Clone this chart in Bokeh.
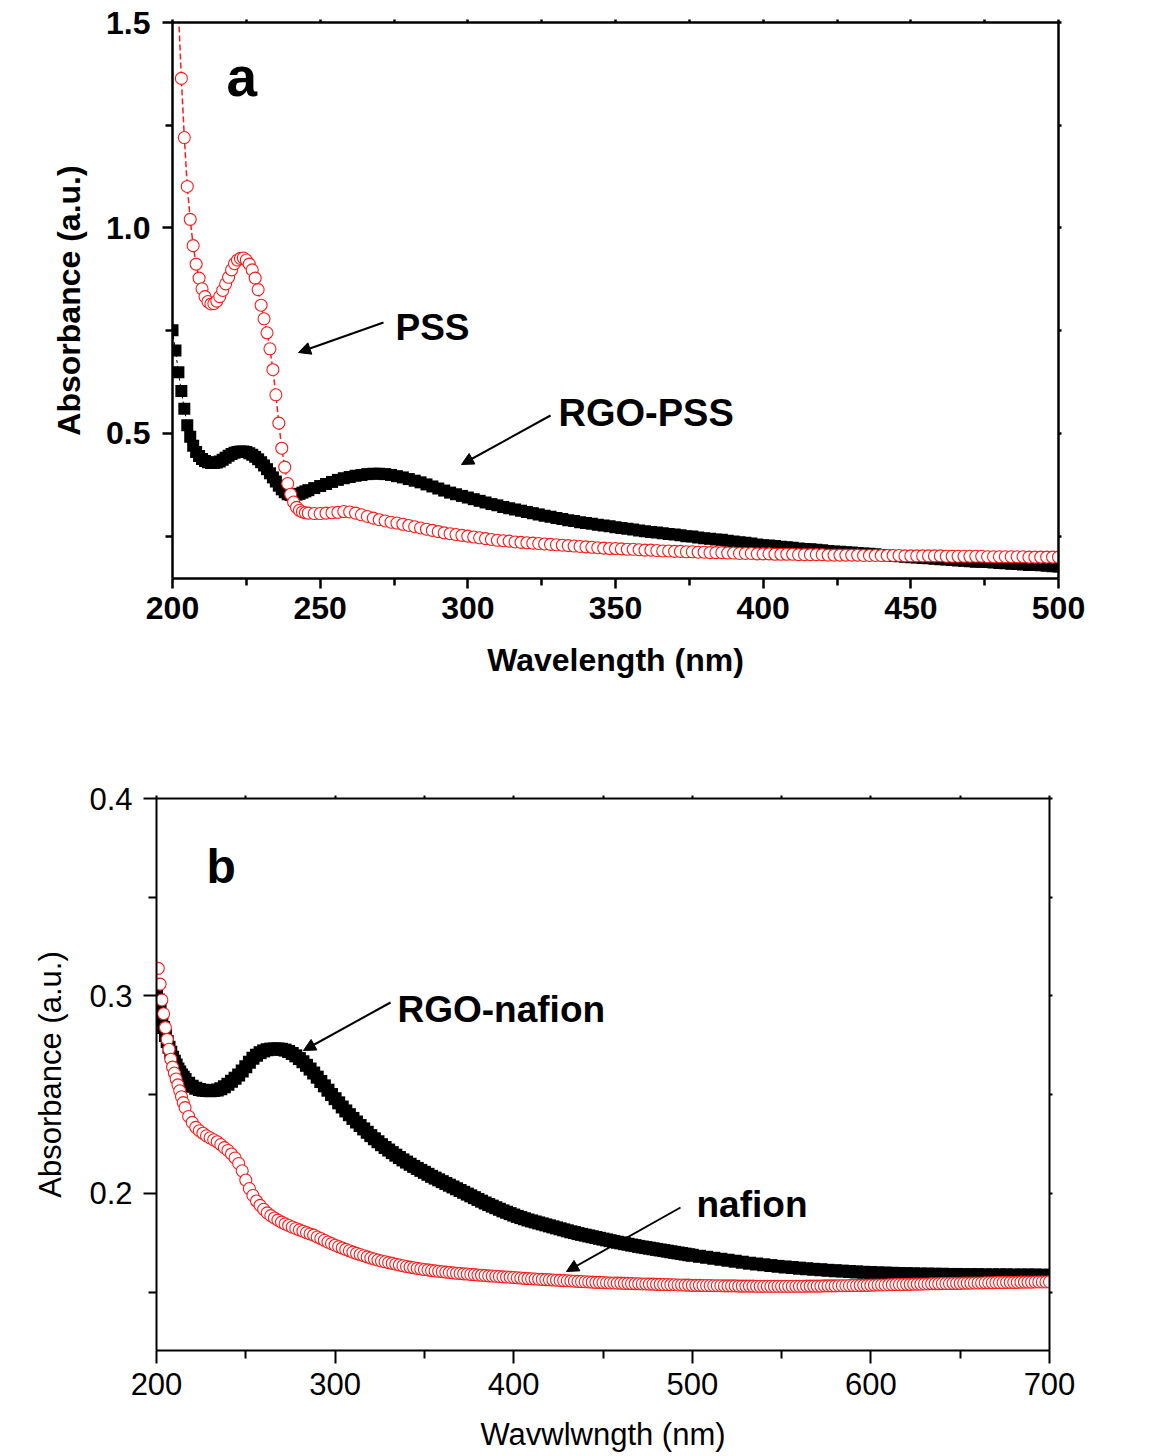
import math
from bokeh.plotting import figure
from bokeh.models import LinearAxis, FixedTicker, Range1d, Label, Arrow, NormalHead, ColumnDataSource
from bokeh.embed import file_html
from bokeh.resources import INLINE

# ---------------- Panel a data (wavelength nm / absorbance) ----------------
a_wl = list(range(200, 246)) + list(range(246, 501, 2))

a_pss = [
    1.95, 1.72, 1.53, 1.364, 1.220, 1.101, 1.021, 0.957, 0.912, 0.878,
    0.852, 0.833, 0.821, 0.815, 0.816, 0.822, 0.833, 0.848, 0.864, 0.880,
    0.898, 0.913, 0.922, 0.926, 0.927, 0.922, 0.912, 0.898, 0.878, 0.850,
    0.812, 0.779, 0.745, 0.706, 0.655, 0.594, 0.525, 0.464, 0.418, 0.378,
    0.352, 0.333, 0.320, 0.313, 0.309, 0.307,
    0.306, 0.305, 0.305, 0.306, 0.307, 0.308, 0.310, 0.309, 0.306, 0.302,
    0.298, 0.294, 0.290, 0.287, 0.284, 0.282, 0.279, 0.276, 0.273, 0.270,
    0.267, 0.264, 0.261, 0.258, 0.256, 0.254, 0.252, 0.250, 0.248, 0.246,
    0.244, 0.242, 0.240, 0.239, 0.238, 0.236, 0.235, 0.234, 0.233, 0.232,
    0.231, 0.230, 0.229, 0.228, 0.227, 0.226, 0.225, 0.224, 0.223, 0.222,
    0.221, 0.220, 0.220, 0.219, 0.218, 0.218, 0.217, 0.216, 0.216, 0.215,
    0.214, 0.214, 0.213, 0.213, 0.212, 0.212, 0.211, 0.211, 0.210, 0.210,
    0.210, 0.209, 0.209, 0.208, 0.208, 0.208, 0.207, 0.207, 0.207, 0.206,
    0.206, 0.206, 0.206, 0.205, 0.205, 0.205, 0.205, 0.205, 0.204, 0.204,
    0.204, 0.204, 0.204, 0.204, 0.203, 0.203, 0.203, 0.203, 0.203, 0.203,
    0.203, 0.202, 0.202, 0.202, 0.202, 0.202, 0.202, 0.202, 0.201, 0.201,
    0.201, 0.201, 0.201, 0.201, 0.201, 0.200, 0.200, 0.200, 0.200, 0.200,
    0.200, 0.200, 0.199, 0.199, 0.199, 0.199, 0.199, 0.199,
]

a_rgo_pss = [
    0.751, 0.702, 0.649, 0.603, 0.560, 0.520, 0.492, 0.470, 0.455, 0.445,
    0.438, 0.433, 0.430, 0.428, 0.428, 0.429, 0.432, 0.436, 0.441, 0.446,
    0.450, 0.453, 0.455, 0.456, 0.456, 0.455, 0.452, 0.448, 0.443, 0.437,
    0.430, 0.422, 0.413, 0.403, 0.393, 0.383, 0.373, 0.364, 0.357, 0.352,
    0.350, 0.350, 0.351, 0.353, 0.356, 0.359,
    0.362, 0.367, 0.372, 0.377, 0.382, 0.387, 0.391, 0.394, 0.397, 0.399,
    0.401, 0.402, 0.402, 0.401, 0.399, 0.396, 0.393, 0.389, 0.385, 0.381,
    0.376, 0.371, 0.366, 0.361, 0.356, 0.352, 0.348, 0.344, 0.340, 0.336,
    0.332, 0.328, 0.325, 0.321, 0.318, 0.315, 0.312, 0.309, 0.306, 0.303,
    0.300, 0.297, 0.294, 0.292, 0.289, 0.287, 0.284, 0.282, 0.280, 0.278,
    0.276, 0.274, 0.272, 0.270, 0.268, 0.266, 0.264, 0.262, 0.260, 0.259,
    0.257, 0.255, 0.254, 0.252, 0.250, 0.249, 0.247, 0.245, 0.244, 0.242,
    0.241, 0.239, 0.237, 0.235, 0.234, 0.232, 0.230, 0.228, 0.227, 0.226,
    0.224, 0.223, 0.222, 0.220, 0.219, 0.218, 0.217, 0.216, 0.214, 0.213,
    0.212, 0.211, 0.210, 0.209, 0.208, 0.207, 0.206, 0.204, 0.203, 0.202,
    0.201, 0.200, 0.199, 0.198, 0.197, 0.196, 0.195, 0.194, 0.193, 0.192,
    0.191, 0.190, 0.189, 0.188, 0.188, 0.187, 0.186, 0.185, 0.184, 0.183,
    0.182, 0.181, 0.180, 0.180, 0.179, 0.178, 0.177, 0.176,
]

a_xticks = [200, 250, 300, 350, 400, 450, 500]
a_xminor = [225, 275, 325, 375, 425, 475]
a_yticks = [0.5, 1.0, 1.5]
a_yminor = [0.25, 0.75, 1.25]
a_ylabels = {0.5: "0.5", 1.0: "1.0", 1.5: "1.5"}

# ---------------- Panel b data ----------------
b_naf_wl = list(range(201, 216)) + list(range(216, 701, 2))
b_nafion = [
    0.314, 0.306, 0.298, 0.291, 0.284, 0.278, 0.273, 0.268, 0.264, 0.261,
    0.258, 0.255, 0.252, 0.249, 0.246,
    0.2435, 0.2390, 0.2360, 0.2335, 0.2318, 0.2305, 0.2292, 0.2282, 0.2272, 0.2262,
    0.2248, 0.2232, 0.2218, 0.2200, 0.2180, 0.2152, 0.2115, 0.2068, 0.2025, 0.1990,
    0.1962, 0.1940, 0.1920, 0.1902, 0.1888, 0.1876, 0.1865, 0.1855, 0.1846, 0.1838,
    0.1830, 0.1823, 0.1816, 0.1809, 0.1802, 0.1795, 0.1789, 0.1780, 0.1772, 0.1763,
    0.1754, 0.1746, 0.1738, 0.1731, 0.1724, 0.1717, 0.1710, 0.1703, 0.1697, 0.1691,
    0.1685, 0.1679, 0.1673, 0.1668, 0.1663, 0.1658, 0.1654, 0.1650, 0.1646, 0.1642,
    0.1638, 0.1634, 0.1630, 0.1627, 0.1624, 0.1621, 0.1618, 0.1615, 0.1613, 0.1610,
    0.1608, 0.1606, 0.1604, 0.1602, 0.1600, 0.1598, 0.1596, 0.1595, 0.1593, 0.1592,
    0.1590, 0.1589, 0.1587, 0.1586, 0.1585, 0.1583, 0.1582, 0.1581, 0.1580, 0.1578,
    0.1577, 0.1576, 0.1575, 0.1573, 0.1572, 0.1570, 0.1569, 0.1568, 0.1567, 0.1566,
    0.1565, 0.1564, 0.1563, 0.1562, 0.1561, 0.1560, 0.1559, 0.1558, 0.1557, 0.1556,
    0.1555, 0.1554, 0.1553, 0.1552, 0.1551, 0.1550, 0.1550, 0.1549, 0.1548, 0.1547,
    0.1547, 0.1546, 0.1546, 0.1545, 0.1545, 0.1544, 0.1543, 0.1543, 0.1542, 0.1542,
    0.1541, 0.1541, 0.1540, 0.1540, 0.1539, 0.1539, 0.1538, 0.1538, 0.1537, 0.1537,
    0.1536, 0.1536, 0.1535, 0.1535, 0.1535, 0.1534, 0.1534, 0.1534, 0.1533, 0.1533,
    0.1533, 0.1532, 0.1532, 0.1532, 0.1532, 0.1531, 0.1531, 0.1531, 0.1531, 0.1531,
    0.1530, 0.1530, 0.1530, 0.1530, 0.1530, 0.1530, 0.1530, 0.1530, 0.1530, 0.1530,
    0.1530, 0.1530, 0.1530, 0.1530, 0.1531, 0.1531, 0.1531, 0.1531, 0.1531, 0.1532,
    0.1532, 0.1532, 0.1532, 0.1533, 0.1533, 0.1533, 0.1534, 0.1534, 0.1534, 0.1535,
    0.1535, 0.1535, 0.1536, 0.1536, 0.1537, 0.1537, 0.1537, 0.1538, 0.1538, 0.1539,
    0.1539, 0.1539, 0.1540, 0.1540, 0.1541, 0.1541, 0.1541, 0.1542, 0.1542, 0.1543,
    0.1543, 0.1543, 0.1544, 0.1544, 0.1544, 0.1545, 0.1545, 0.1545, 0.1546, 0.1546,
    0.1546, 0.1547, 0.1547, 0.1547, 0.1548, 0.1548, 0.1548, 0.1549, 0.1549, 0.1549,
    0.1550, 0.1550, 0.1550, 0.1550, 0.1551, 0.1551, 0.1551, 0.1551, 0.1552, 0.1552,
    0.1552, 0.1552, 0.1553,
]

b_rgo_wl = list(range(200, 216)) + list(range(216, 501, 2)) + list(range(504, 701, 4))
b_rgo_nafion = [
    0.304, 0.298, 0.293, 0.288, 0.284, 0.280, 0.277, 0.274, 0.2715, 0.269,
    0.267, 0.265, 0.263, 0.2615, 0.260, 0.2588,
    0.2577, 0.2558, 0.2543, 0.2533, 0.2527, 0.2523, 0.2521, 0.2520, 0.2521, 0.2524,
    0.2530, 0.2540, 0.2553, 0.2568, 0.2583, 0.2600, 0.2620, 0.2642, 0.2665, 0.2685,
    0.2700, 0.2713, 0.2722, 0.2728, 0.2731, 0.2732, 0.2732, 0.2730, 0.2726, 0.2719,
    0.2709, 0.2697, 0.2683, 0.2667, 0.2649, 0.2630, 0.2610, 0.2589, 0.2567, 0.2545,
    0.2523, 0.2501, 0.2480, 0.2459, 0.2438, 0.2418, 0.2399, 0.2380, 0.2362, 0.2344,
    0.2327, 0.2310, 0.2293, 0.2277, 0.2262, 0.2247, 0.2233, 0.2220, 0.2207, 0.2194,
    0.2182, 0.2170, 0.2159, 0.2148, 0.2137, 0.2127, 0.2117, 0.2107, 0.2097, 0.2087,
    0.2078, 0.2069, 0.2060, 0.2051, 0.2042, 0.2033, 0.2024, 0.2015, 0.2006, 0.1997,
    0.1988, 0.1979, 0.1970, 0.1961, 0.1952, 0.1944, 0.1936, 0.1928, 0.1920, 0.1912,
    0.1905, 0.1898, 0.1891, 0.1884, 0.1878, 0.1872, 0.1866, 0.1861, 0.1856, 0.1851,
    0.1846, 0.1841, 0.1836, 0.1831, 0.1826, 0.1821, 0.1816, 0.1811, 0.1806, 0.1802,
    0.1797, 0.1793, 0.1789, 0.1785, 0.1781, 0.1777, 0.1773, 0.1769, 0.1765, 0.1761,
    0.1757, 0.1753, 0.1750, 0.1746, 0.1743, 0.1739, 0.1736, 0.1732, 0.1729, 0.1726,
    0.1723, 0.1720, 0.1717, 0.1714, 0.1711, 0.1708, 0.1705, 0.1702, 0.1699, 0.1696,
    0.1693, 0.1690, 0.1687,
    0.1682, 0.1677, 0.1672, 0.1667, 0.1662, 0.1657, 0.1652, 0.1647, 0.1643, 0.1639,
    0.1635, 0.1631, 0.1628, 0.1625, 0.1622, 0.1619, 0.1616, 0.1614, 0.1611, 0.1609,
    0.1607, 0.1605, 0.1603, 0.1601, 0.1600, 0.1598, 0.1597, 0.1596, 0.1595, 0.1594,
    0.1593, 0.1592, 0.1592, 0.1591, 0.1591, 0.1590, 0.1590, 0.1589, 0.1589, 0.1589,
    0.1588, 0.1588, 0.1588, 0.1588, 0.1587, 0.1587, 0.1587, 0.1587, 0.1586, 0.1586,
]

b_xticks = [200, 300, 400, 500, 600, 700]
b_xminor = [250, 350, 450, 550, 650]
b_yticks = [0.2, 0.3, 0.4]
b_yminor = [0.15, 0.25, 0.35]
b_ylabels = {0.2: "0.2", 0.3: "0.3", 0.4: "0.4"}

FONT = "Liberation Sans"
W = 1156
HA, HB = 728, 728

# frame placement (page pixels)
A_L, A_R, A_T, A_B = 172, 1058, 22, 578
B_L, B_R, B_T, B_B = 156, 1049, 798, 1350
A_X0, A_X1, A_Y0, A_Y1 = 200, 500, 0.147, 1.5
B_X0, B_X1, B_Y0, B_Y1 = 200, 700, 0.1205, 0.4


def ax_(px):
    return A_X0 + (px - A_L) * (A_X1 - A_X0) / (A_R - A_L)


def ay_(py):
    return A_Y1 - (py - A_T) * (A_Y1 - A_Y0) / (A_B - A_T)


def bx_(px):
    return B_X0 + (px - B_L) * (B_X1 - B_X0) / (B_R - B_L)


def by_(py):
    return B_Y1 - (py - B_T) * (B_Y1 - B_Y0) / (B_B - B_T)


def make_fig(xr, yr, left, right, top, bottom, h):
    p = figure(width=W, height=h, x_range=Range1d(*xr), y_range=Range1d(*yr),
               x_axis_type=None, y_axis_type=None,
               output_backend="svg", toolbar_location=None,
               min_border_left=left, min_border_right=right,
               min_border_top=top, min_border_bottom=bottom)
    p.outline_line_color = None
    p.background_fill_color = "white"
    p.border_fill_color = "white"
    return p


def add_axes(p, xt, xm, yt, ym, lw, maj, mino, fsize, style, xstand, ystand,
             xlab, ylab, lsize, xlstand, ylstand, yover=None):
    specs = [("below", xt, xm, True, xstand, xlab, xlstand, None),
             ("left", yt, ym, True, ystand, ylab, ylstand, yover),
             ("above", xt, xm, False, 0, None, 0, None),
             ("right", yt, ym, False, 0, None, 0, None)]
    for loc, t, m, lab, stand, alab, alstand, over in specs:
        ax = LinearAxis(ticker=FixedTicker(ticks=t, minor_ticks=m))
        ax.axis_line_width = lw
        ax.axis_line_color = "black"
        ax.major_tick_line_width = lw
        ax.minor_tick_line_width = lw
        ax.major_tick_in = 0
        ax.minor_tick_in = 0
        if lab:
            ax.major_tick_out = maj
            ax.minor_tick_out = mino
            ax.major_label_text_font = FONT
            ax.major_label_text_font_size = fsize
            ax.major_label_text_font_style = style
            ax.major_label_text_color = "black"
            ax.major_label_standoff = stand
            if over:
                ax.major_label_overrides = over
            ax.axis_label = alab
            ax.axis_label_text_font = FONT
            ax.axis_label_text_font_size = lsize
            ax.axis_label_text_font_style = style
            ax.axis_label_text_color = "black"
            ax.axis_label_standoff = alstand
        else:
            ax.major_tick_out = 3
            ax.minor_tick_out = 3
            ax.major_label_text_font_size = "0px"
            ax.major_label_standoff = 0
            ax.major_label_overrides = {v: "" for v in t}
        p.add_layout(ax, loc)


def txt(p, x, y, s, size, style="bold", align="left", baseline="alphabetic", angle=0.0):
    p.add_layout(Label(x=x, y=y, text=s, text_font=FONT, text_font_size=size,
                       text_font_style=style, text_color="black", text_align=align,
                       text_baseline=baseline, angle=angle))


def arrow(p, x0, y0, x1, y1):
    p.add_layout(Arrow(end=NormalHead(size=12, fill_color="black", line_color="black", line_width=1),
                       x_start=x0, y_start=y0, x_end=x1, y_end=y1,
                       line_width=2, line_color="black"))


# ---------------- Panel a ----------------
pa = make_fig((A_X0, A_X1), (A_Y0, A_Y1), A_L, W - A_R, A_T, HA - A_B, HA)
add_axes(pa, a_xticks, a_xminor, a_yticks, a_yminor, 2.5, 10, 7, "32px", "bold", 8, 12,
         "Wavelength (nm)", "Absorbance (a.u.)", "32px", 20, 16, a_ylabels)

src_a_rgo = ColumnDataSource(dict(x=a_wl, y=a_rgo_pss))
src_a_pss = ColumnDataSource(dict(x=a_wl, y=a_pss))
pa.line("x", "y", source=src_a_rgo, line_color="black", line_width=1, line_dash="3 3")
pa.scatter("x", "y", source=src_a_rgo, marker="square", size=12,
           fill_color="black", line_color="black", line_width=0)
pa.line("x", "y", source=src_a_pss, line_color="#ff1a1a", line_width=1.5, line_dash="6 3")
pa.scatter("x", "y", source=src_a_pss, marker="circle", size=12,
           fill_color="white", line_color="#ff1a1a", line_width=1.1)

txt(pa, ax_(226), ay_(76), "a", "55px")
txt(pa, ax_(395), ay_(327), "PSS", "37px")
txt(pa, ax_(558), ay_(412), "RGO-PSS", "38px")
arrow(pa, ax_(383), ay_(322), ax_(298), ay_(352))
arrow(pa, ax_(550), ay_(415), ax_(461), ay_(464))

# ---------------- Panel b ----------------
pb = make_fig((B_X0, B_X1), (B_Y0, B_Y1), B_L, W - B_R, B_T - HA, HA + HB - B_B, HB)
add_axes(pb, b_xticks, b_xminor, b_yticks, b_yminor, 2, 13, 8, "31px", "normal", 9, 11,
         "Wavwlwngth (nm)", "Absorbance (a.u.)", "31px", 19, 18, b_ylabels)

src_b_rgo = ColumnDataSource(dict(x=b_rgo_wl, y=b_rgo_nafion))
src_b_naf = ColumnDataSource(dict(x=b_naf_wl, y=b_nafion))
pb.scatter("x", "y", source=src_b_rgo, marker="square", size=13,
           fill_color="black", line_color="black", line_width=0)
pb.scatter("x", "y", source=src_b_naf, marker="circle", size=12,
           fill_color="white", line_color="#ff1a1a", line_width=1.1)

txt(pb, bx_(206), by_(866), "b", "48px")
txt(pb, bx_(397), by_(1009), "RGO-nafion", "37px")
txt(pb, bx_(696), by_(1204), "nafion", "37px")
arrow(pb, bx_(390), by_(1002), bx_(303), by_(1050))
arrow(pb, bx_(680), by_(1207), bx_(566), by_(1271))

open("out.html", "w").write(file_html([pa, pb], INLINE))
